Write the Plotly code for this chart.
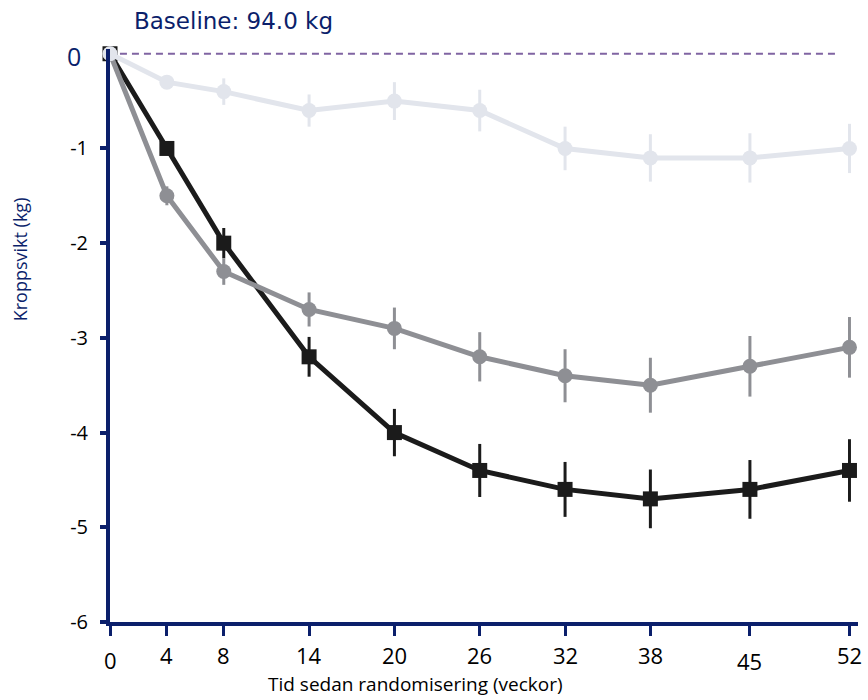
import plotly.graph_objects as go

weeks = [0, 4, 8, 14, 20, 26, 32, 38, 45, 52]
tick_labels = ["0", "4", "8", "14", "20", "26", "32", "38", "45", "52"]
tick_label_drop = [5, 0, 0, 0, 0, 0, 0, 0, 6, 0]

black_vals = [0, -1.0, -2.0, -3.2, -4.0, -4.4, -4.6, -4.7, -4.6, -4.4]
black_err = [0, 0.07, 0.16, 0.21, 0.25, 0.28, 0.29, 0.31, 0.31, 0.33]

gray_vals = [0, -1.5, -2.3, -2.7, -2.9, -3.2, -3.4, -3.5, -3.3, -3.1]
gray_err = [0, 0.1, 0.14, 0.18, 0.22, 0.26, 0.28, 0.29, 0.32, 0.32]

light_vals = [0, -0.3, -0.4, -0.6, -0.5, -0.6, -1.0, -1.1, -1.1, -1.0]
light_err = [0, 0.07, 0.14, 0.17, 0.2, 0.22, 0.23, 0.25, 0.26, 0.26]

y_ticks = [-6, -5, -4, -3, -2, -1]
y_tick_labels = ["-6", "-5", "-4", "-3", "-2", "-1"]

NAVY = "#0B1F6B"
FONT = "Open Sans, sans-serif"

fig = go.Figure()

series = [
    (black_vals, black_err, "#1b1b1b", "square", 15),
    (gray_vals, gray_err, "#8e8f94", "circle", 15),
    (light_vals, light_err, "#e2e5ec", "circle", 15),
]
for vals, err, col, sym, size in series:
    fig.add_trace(go.Scatter(
        x=weeks, y=vals, mode="lines+markers",
        line=dict(color=col, width=5),
        marker=dict(color=col, symbol=sym, size=size),
        error_y=dict(type="data", array=err, visible=True, color=col,
                     thickness=3, width=0),
        cliponaxis=False, showlegend=False,
    ))

fig.add_shape(type="line", x0=0.7, x1=51.2, y0=0, y1=0, xref="x", yref="y",
              line=dict(color="#8064A2", width=1.8, dash="7px,5px"), layer="below")

# x tick labels (a few sit slightly lower in the original)
for wk, lab, drop in zip(weeks, tick_labels, tick_label_drop):
    fig.add_annotation(text=lab, xref="x", yref="paper", x=wk, y=-0.0576,
                       yshift=-drop, xanchor="center", yanchor="middle",
                       showarrow=False,
                       font=dict(family=FONT, size=22, color="black"))

fig.add_annotation(text="Baseline: 94.0 kg", xref="paper", yref="paper",
                   x=0.0294, y=1.049, xanchor="left", yanchor="middle",
                   showarrow=False,
                   font=dict(family="DejaVu Sans, Verdana, sans-serif", size=23, color=NAVY))
fig.add_annotation(text="0", xref="paper", yref="y", x=-0.036, y=-0.02,
                   xanchor="right", yanchor="middle", showarrow=False,
                   font=dict(family=FONT, size=25, color=NAVY))
fig.add_annotation(text="Kroppsvikt (kg)", xref="paper", yref="paper",
                   x=-0.1203, y=0.633, textangle=-90, xanchor="center",
                   yanchor="middle", showarrow=False,
                   font=dict(family=FONT, size=18, color=NAVY))
fig.add_annotation(text="Tid sedan randomisering (veckor)", xref="paper", yref="paper",
                   x=0.408, y=-0.108, xanchor="center", yanchor="middle",
                   showarrow=False,
                   font=dict(family=FONT, size=19, color="black"))

fig.update_layout(
    width=868, height=700,
    margin=dict(l=110, r=10, t=49, b=78),
    paper_bgcolor="white", plot_bgcolor="white",
    xaxis=dict(range=[0, 52.6], tickvals=weeks, showticklabels=False,
               showgrid=False, zeroline=False, showline=True,
               linecolor=NAVY, linewidth=4, ticks="outside", ticklen=10,
               tickwidth=3, tickcolor=NAVY),
    yaxis=dict(range=[-6, 0.05], tickvals=y_ticks, ticktext=y_tick_labels,
               showgrid=False, zeroline=False, showline=True,
               linecolor=NAVY, linewidth=4, ticks="outside", ticklen=6,
               tickwidth=4, tickcolor=NAVY, ticklabelstandoff=8,
               tickfont=dict(family=FONT, size=20, color="black")),
)

fig.write_html("out.html")
